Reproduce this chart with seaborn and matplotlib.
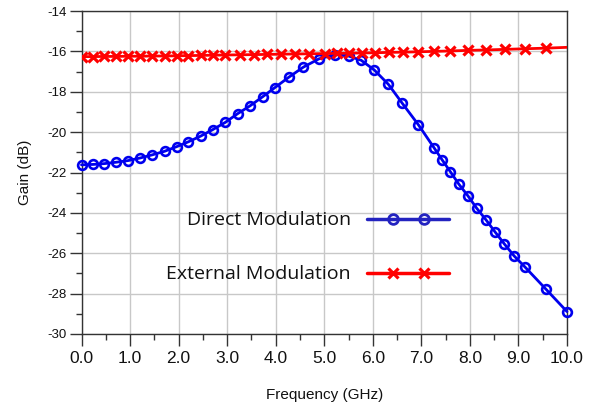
import numpy as np
import pandas as pd
import matplotlib
matplotlib.use("Agg")
import matplotlib.pyplot as plt
import seaborn as sns
from matplotlib.lines import Line2D
from matplotlib.legend_handler import HandlerLine2D
from matplotlib.ticker import MultipleLocator, FixedLocator, FormatStrFormatter

# ---------------- data ----------------
direct_freq = [0.00, 0.24, 0.47, 0.72, 0.96, 1.21, 1.45, 1.71, 1.96, 2.20,
               2.46, 2.70, 2.96, 3.22, 3.47, 3.73, 3.98, 4.27, 4.57, 4.89,
               5.23, 5.50, 5.76, 6.03, 6.32, 6.61, 6.94, 7.26, 7.43, 7.60,
               7.77, 7.96, 8.14, 8.33, 8.52, 8.71, 8.91, 9.13, 9.57, 10.00]
direct_gain = [-21.62, -21.60, -21.56, -21.49, -21.41, -21.28, -21.13, -20.95, -20.72, -20.48,
               -20.19, -19.88, -19.52, -19.08, -18.70, -18.25, -17.80, -17.28, -16.78, -16.37,
               -16.16, -16.23, -16.44, -16.92, -17.63, -18.58, -19.64, -20.77, -21.38, -21.97,
               -22.57, -23.16, -23.77, -24.34, -24.95, -25.54, -26.13, -26.67, -27.79, -28.89]

external_freq = [0.00, 0.24, 0.47, 0.72, 0.96, 1.21, 1.45, 1.71, 1.96, 2.20,
                 2.46, 2.70, 2.96, 3.26, 3.55, 3.82, 4.10, 4.39, 4.69, 5.01,
                 5.26, 5.51, 5.77, 6.04, 6.33, 6.63, 6.94, 7.27, 7.60, 7.97,
                 8.33, 8.73, 9.14, 9.57, 10.00]
external_gain = [-16.26, -16.26, -16.25, -16.25, -16.24, -16.24, -16.23, -16.23, -16.22, -16.21,
                 -16.20, -16.19, -16.18, -16.17, -16.16, -16.15, -16.14, -16.13, -16.12, -16.11,
                 -16.10, -16.09, -16.08, -16.07, -16.05, -16.04, -16.02, -16.00, -15.98, -15.95,
                 -15.93, -15.90, -15.87, -15.84, -15.80]

series_labels = ["Direct Modulation", "External Modulation"]
x_ticks = [0.0, 1.0, 2.0, 3.0, 4.0, 5.0, 6.0, 7.0, 8.0, 9.0, 10.0]
y_ticks = [-30, -28, -26, -24, -22, -20, -18, -16, -14]
x_label = "Frequency (GHz)"
y_label = "Gain (dB)"

df_direct = pd.DataFrame({"freq": direct_freq, "gain": direct_gain})
df_ext = pd.DataFrame({"freq": external_freq, "gain": external_gain})

# ---------------- style ----------------
sns.set_style("white")
plt.rcParams['font.family'] = ['Liberation Sans', 'DejaVu Sans']

BLUE = "#0000ee"
RED = "#ff0000"

fig = plt.figure(figsize=(5.99, 4.07), dpi=100)
ax = fig.add_axes([81.5 / 599, 1 - 334 / 407, 485.5 / 599, 323 / 407])

sns.lineplot(data=df_direct, x="freq", y="gain", ax=ax, sort=False,
             color=BLUE, lw=2.0, marker="o", markersize=6.3,
             markerfacecolor="none", markeredgecolor=BLUE, markeredgewidth=1.9,
             clip_on=False, zorder=4)
sns.lineplot(data=df_ext, x="freq", y="gain", ax=ax, sort=False,
             color=RED, lw=2.0, marker="x", markersize=6.5,
             markeredgecolor=RED, markeredgewidth=2.3,
             markevery=list(range(len(external_freq) - 1)), zorder=5)

ax.set_xlim(0, 10)
ax.set_ylim(-30, -14)
ax.xaxis.set_major_locator(FixedLocator(x_ticks))
ax.xaxis.set_minor_locator(MultipleLocator(0.5))
ax.xaxis.set_major_formatter(FormatStrFormatter("%.1f"))
ax.yaxis.set_major_locator(FixedLocator(y_ticks))
ax.yaxis.set_minor_locator(MultipleLocator(1))
ax.yaxis.set_major_formatter(FormatStrFormatter("%d"))

ax.grid(True, which="major", color="#c8c8c8", lw=1.0)
ax.set_axisbelow(True)
for s in ax.spines.values():
    s.set_color("#333333")
    s.set_linewidth(1.0)

ax.tick_params(axis="both", which="both", direction="out", bottom=True, left=True,
               color="#333333", width=1.0)
ax.tick_params(axis="both", which="major", length=8.5)
ax.tick_params(axis="both", which="minor", length=4.3)
ax.tick_params(axis="x", which="major", labelsize=12.5, pad=4, labelcolor="#111111")
ax.tick_params(axis="y", which="major", labelsize=9.5, pad=2, labelcolor="#111111")

ax.set_xlabel(x_label, fontsize=11, labelpad=15.5, color="#111111")
ax.set_ylabel(y_label, fontsize=11, labelpad=11.5, color="#111111")


# ---------------- legend ----------------
class SpreadMarkerHandler(HandlerLine2D):
    """Full-length line sample with two markers placed inside it."""
    def create_artists(self, legend, orig_handle, xdescent, ydescent,
                       width, height, fontsize, trans):
        xs = np.array([0.0, 0.31, 0.69, 1.0]) * width - xdescent
        ys = np.full_like(xs, (height - ydescent) / 2)
        line = Line2D(xs, ys)
        self.update_prop(line, orig_handle, legend)
        line.set_markevery([1, 2])
        line.set_transform(trans)
        return [line]


h_direct = Line2D([], [], color="#2323c0", lw=2.5, marker="o", markersize=7,
                  markerfacecolor="none", markeredgecolor="#2323c0", markeredgewidth=2.0)
h_ext = Line2D([], [], color=RED, lw=2.5, marker="x", markersize=7,
               markeredgecolor=RED, markeredgewidth=2.3)
leg = ax.legend([h_direct, h_ext], series_labels,
                handler_map={h_direct: SpreadMarkerHandler(),
                             h_ext: SpreadMarkerHandler()},
                prop={"family": "Open Sans", "size": 14},
                frameon=False, markerfirst=False, alignment="right",
                handlelength=4.2, handletextpad=0.85, labelspacing=1.85,
                loc="center", bbox_to_anchor=(0.466, 0.268))
for t in leg.get_texts():
    t.set_color("#111111")

fig.savefig("out.png", dpi=100)
